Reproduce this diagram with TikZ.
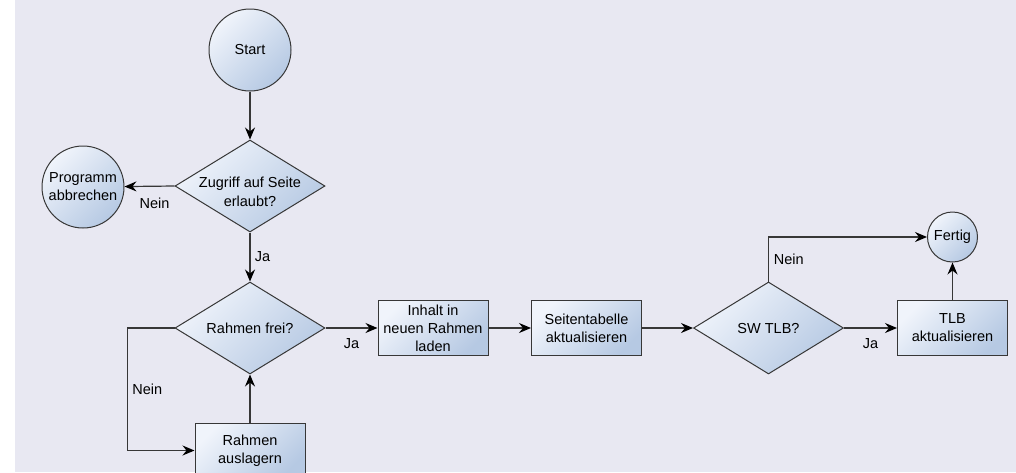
\documentclass[tikz,border=0pt]{standalone}
\usepackage{fontspec}
\setmainfont{Liberation Sans}
\usepackage{xcolor}
\usetikzlibrary{shapes.geometric,arrows.meta,positioning,calc}

\definecolor{bgcolor}{RGB}{232,232,242}
\definecolor{shapelight}{RGB}{240,244,251}
\definecolor{shapedark}{RGB}{182,201,227}
\definecolor{linecolor}{RGB}{55,55,55}

\begin{document}
\begin{tikzpicture}[x=1pt, y=-1pt,
    font=\fontsize{14.5}{18}\selectfont,
    >={Stealth[length=12pt,width=10pt,inset=4pt,color=black]},
    shaded/.style={draw=linecolor, line width=1pt, top color=shapelight, bottom color=shapedark, shading angle=45},
    terminal/.style={circle, shaded, align=center, inner sep=1pt},
    process/.style={rectangle, shaded, align=center, minimum width=110pt, minimum height=55pt, inner sep=2pt},
    decision/.style={diamond, shaded, minimum width=150pt, minimum height=92pt, inner sep=0pt},
    every label/.style={align=center},
    line/.style={draw=linecolor, line width=1.2pt, ->}]

    % Background
    \useasboundingbox (0,0) rectangle (1016,472);
    \fill[bgcolor] (15,0) rectangle (1016,472);

    \node[terminal, minimum size=82pt] (start) at (250,50) {Start};
    \node[decision, label={[yshift=-6pt, font=\fontsize{14.5}{19}\selectfont]center:Zugriff auf Seite\\erlaubt?}] (zugriff) at (250,186) {};
    \node[terminal, minimum size=82pt, text depth=1pt] (abbrechen) at (83,187) {Programm\\abbrechen};
    \node[decision, label=center:{Rahmen frei?}] (frei) at (250,328) {};
    \node[process] (auslagern) at (250,450.5) {Rahmen\\auslagern};
    \node[process] (laden) at (433,328) {Inhalt in\\neuen Rahmen\\laden};
    \node[process] (tabelle) at (586.5,328) {Seitentabelle\\aktualisieren};
    \node[decision, label=center:{SW TLB?}] (swtlb) at (768.5,328) {};
    \node[process] (tlb) at (952.5,328) {TLB\\aktualisieren};
    \node[terminal, minimum size=50pt] (fertig) at (952.5,237) {Fertig};

    % Connectors
    \draw[line] (start) -- (zugriff);
    \draw[line] (zugriff.west) -- node[below=7.5pt, pos=0.4] {Nein} (abbrechen);
    \draw[line] (zugriff) -- node[right=1pt] {Ja} (frei);
    \draw[line] (frei) -- node[below=6.5pt] {Ja} (laden);
    \draw[line] (frei.west) -- ++(-47,0) |- node[pos=0.25, right=1pt] {Nein} (auslagern.west);
    \draw[line] (auslagern) -- (frei);
    \draw[line] (laden) -- (tabelle);
    \draw[line] (tabelle) -- (swtlb);
    \draw[line] (swtlb) -- node[below=6.5pt] {Ja} (tlb);
    \draw[line] (swtlb.north) |- node[pos=0.25, right=1.5pt] {Nein} (fertig.west);
    \draw[line] (tlb) -- (fertig);
\end{tikzpicture}
\end{document}
